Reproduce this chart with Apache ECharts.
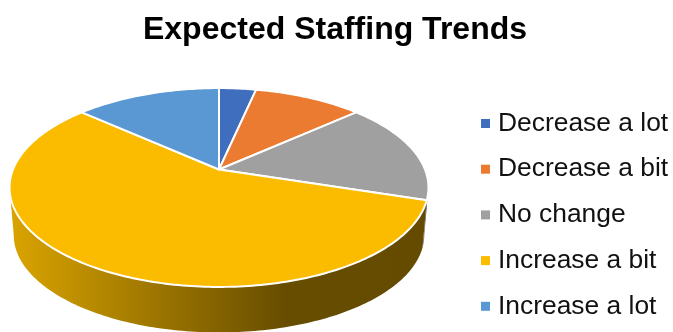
<!DOCTYPE html>
<html>
<head>
<meta charset="utf-8">
<style>
  html, body { margin: 0; padding: 0; background: #fff; overflow: hidden; }
  #chart { width: 673px; height: 332px; }
</style>
<script src="https://cdn.jsdelivr.net/npm/echarts@6/dist/echarts.min.js"></script>
</head>
<body>
<div id="chart"></div>
<script>
// Share of responses per staffing outlook, in percent.
const categories = ['Decrease a lot', 'Decrease a bit', 'No change', 'Increase a bit', 'Increase a lot'];
const values = [3.4, 10.0, 16.5, 56.7, 13.4];
const colors = ['#3f6ebf', '#ea7b30', '#a0a0a0', '#fbbc00', '#5a98d3'];

// Tilted-disc projection: a point on the unit circle maps through a homography,
// so the hub sits above the centre of the visible ellipse.
const disc = { cx: 219, hubY: 169.5, k: 206, a: 65.5, c: -0.181 };
const wall = { scale: 0.98, centreY: 187.5, bottomCentreY: 235 };

function project(deg, rim) {
  const t = deg * Math.PI / 180;
  const u = Math.sin(t), v = -Math.cos(t);
  const w = 1 + disc.c * v;
  const x = disc.cx + disc.k * u / w;
  const y = (disc.a * v + disc.hubY) / w;
  if (!rim) return [x, y];
  return [disc.cx + (x - disc.cx) * wall.scale, wall.bottomCentreY + (y - wall.centreY) * wall.scale];
}

function arc(from, to, rim) {
  const pts = [];
  const n = Math.max(2, Math.ceil(Math.abs(to - from)));
  for (let i = 0; i <= n; i++) pts.push(project(from + (to - from) * i / n, rim));
  return pts;
}

const total = values.reduce((s, v) => s + v, 0);
const visibleFrom = 100.4, visibleTo = 259.6;

function wallShade(color) {
  const base = echarts.color.parse(color);
  const tone = f => `rgb(${base.slice(0, 3).map(c => Math.round(c * f)).join(',')})`;
  return new echarts.graphic.LinearGradient(0, 0, 1, 0, [
    { offset: 0, color: tone(0.87) },
    { offset: 0.66, color: tone(0.41) },
    { offset: 1, color: tone(0.40) }
  ]);
}

let running = 0;
const series = categories.map((name, i) => {
  const start = running / total * 360;
  running += values[i];
  const end = running / total * 360;
  return {
    type: 'custom',
    name,
    coordinateSystem: 'none',
    silent: true,
    animation: false,
    clip: false,
    itemStyle: { color: colors[i] },
    data: [[start, end]],
    renderItem: (params, api) => {
      const from = api.value(0), to = api.value(1);
      const children = [];
      const sideFrom = Math.max(from, visibleFrom), sideTo = Math.min(to, visibleTo);
      if (sideTo > sideFrom) {
        children.push({
          type: 'polygon',
          shape: { points: arc(sideFrom, sideTo, false).concat(arc(sideTo, sideFrom, true)) },
          style: { fill: wallShade(colors[i]), stroke: null }
        });
      }
      children.push({
        type: 'polygon',
        shape: { points: [[disc.cx, disc.hubY]].concat(arc(from, to, false)) },
        style: { fill: colors[i], stroke: '#fff', lineWidth: 2, lineJoin: 'round' }
      });
      return { type: 'group', children };
    }
  };
});

const chart = echarts.init(document.getElementById('chart'), null, { renderer: 'canvas' });
chart.setOption({
  animation: false,
  backgroundColor: '#fff',
  title: {
    text: 'Expected Staffing Trends',
    left: 330,
    textAlign: 'center',
    top: 9,
    textStyle: { fontFamily: 'Liberation Sans', fontSize: 32, fontWeight: 'bold', color: '#000' }
  },
  legend: {
    orient: 'vertical',
    left: 481,
    top: 108.5,
    padding: 0,
    itemWidth: 9,
    itemHeight: 9,
    itemGap: 15.7,
    icon: 'rect',
    data: categories,
    textStyle: { fontFamily: 'Liberation Sans', fontSize: 26.4, color: '#111', lineHeight: 30, padding: [0, 0, 0, 3] }
  },
  series
});
</script>
</body>
</html>
